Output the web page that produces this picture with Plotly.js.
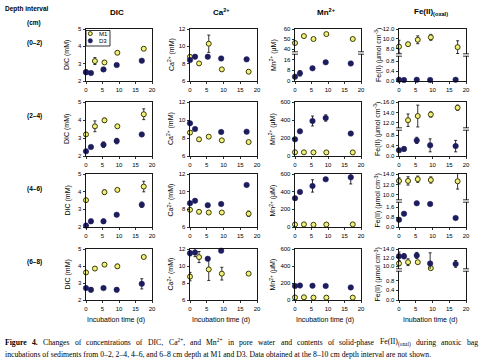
<!DOCTYPE html>
<html><head><meta charset="utf-8">
<script src="https://cdn.plot.ly/plotly-3.0.1.min.js"></script>
<style>html,body{margin:0;padding:0;background:#fff}#chart{width:480px;height:362px}</style>
</head><body><div id="chart"></div>
<script>
// ---------- data ----------
const daysM1 = [0, 2.7, 5.6, 9.5, 17.5];
const daysD3 = [0, 1.5, 5.3, 9.3, 16.9];
const xTicks = [0, 5, 10, 15, 20];
const seriesNames = ['M1', 'D3'];
const depthLabels = ['(0\u20132)', '(2\u20134)', '(4\u20136)', '(6\u20138)'];
const colTitles = ['DIC', 'Ca<sup>2+</sup>', 'Mn<sup>2+</sup>', 'Fe(II)<sub>(oxal)</sub>'];
const yTitles = ['DIC (mM)', 'Ca<sup>2+</sup> (mM)', 'Mn<sup>2+</sup> (\u03bcM)', 'Fe(II) (\u03bcmol cm<sup>-3</sup>)'];
const xTitles = ['Incubation time (d)', 'Incubation time (d)', 'Incubation time (d)', 'Inubation time (d)'];

// DIC (mM)
const dicM1 = [[2.52, 3.15, 3.07, 3.63, 3.86], [3.2, 3.65, 3.98, 3.65, 4.32], [3.52, null, 3.97, 4.1, 4.29], [3.62, 3.85, 4.08, 3.98, 4.53]];
const dicM1Err = [[0, 0.2, 0.1, 0.05, 0.05], [0.05, 0.3, 0.12, 0, 0.3], [0.08, 0, 0.12, 0, 0.3], [0.05, 0, 0, 0.12, 0.05]];
const dicD3 = [[2.5, 2.46, 2.67, 2.92, 3.17], [2.26, 2.5, 2.63, 2.83, 3.2], [2.08, 2.32, 2.32, 2.69, 3.26], [2.7, 2.6, 2.7, 2.6, 2.95]];
const dicD3Err = [[0.04, 0, 0.05, 0, 0], [0.05, 0, 0.15, 0.15, 0], [0.1, 0.12, 0.12, 0, 0.15], [0.05, 0.12, 0, 0.12, 0.3]];
// Ca2+ (mM)
const caM1 = [[8.79, 8.03, 10.3, 7.34, 7.07], [8.6, 7.85, 8.15, 7.74, 7.55], [7.95, 7.72, 7.64, 7.64, 7.5], [8.75, 11.05, 9.6, 9.1, 9.1]];
const caM1Err = [[0, 0.1, 1.0, 0, 0], [0.1, 0.15, 0, 0, 0], [0, 0.2, 0, 0, 0.3], [0.5, 0.65, 1.3, 0.75, 0]];
const caD3 = [[8.41, 8.8, 8.8, 8.6, 8.5], [9.63, 9.0, null, 8.67, 8.7], [8.7, 8.97, 8.47, 8.6, 10.76], [11.5, 11.6, 10.85, 11.8, null]];
const caD3Err = [[0, 0.2, 0.2, 0, 0.2], [0, 0, 0, 0, 0], [0, 0, 0, 0, 0], [0.3, 0.5, 0.1, 0, 0]];
// Mn2+ (uM)
const mnM1 = [[46, 52.9, 50, 54.9, 50], [42, 41, 40, 40, 40], [28, 30, 25, 28, 30], [30, 32, 28, 28, 28]];
const mnM1Err = [[0, 0, 1, 0, 0], [0, 0, 0, 0, 0], [0, 0, 0, 0, 0], [0, 0, 0, 0, 0]];
const mnD3 = [[3.2, 5.7, 9.4, 13.8, 13], [185, 274, 389, 422, 249], [326, 397, 465, 540, 562], [165, 170, 168, 165, 148]];
const mnD3Err = [[0.5, 2, 0, 0, 0], [15, 0, 55, 35, 0], [15, 0, 70, 10, 75], [0, 0, 0, 0, 0]];
// Fe(II)oxal (umol cm-3)
const feM1 = [[8.4, 8.9, 9.8, 10.3, 8.3], [null, 12.5, 13.3, 13.6, 14.9], [12.67, 12.67, 13.0, 12.85, 12.6], [10.6, 10.9, 10.9, 9.5, null]];
const feM1Err = [[1.3, 0.3, 0.8, 0.6, 1.3], [0, 1.2, 2.1, 0.5, 0.5], [0.6, 0.8, 0.6, 0.6, 1.5], [0.5, 0.8, 0, 0.3, 0]];
const feD3 = [[0.05, 0.04, 0.05, 0.04, 0.05], [0.22, 0.27, 0.6, 0.41, 0.38], [0.58, 1.06, 1.9, 1.84, 0.72], [12.3, 12.3, 12.5, 10.6, 10.5]];
const feD3Err = [[0, 0, 0, 0, 0], [0.06, 0.08, 0.12, 0.25, 0.22], [0.05, 0.12, 0.1, 0.1, 0.05], [1.0, 0.6, 0.7, 2.5, 0.8]];

// caption text
const captionLine1 = [
  [['Figure', 1, true]], [['4.', 1, true]], [['Changes', 1]], [['of', 1]], [['concentrations', 1]], [['of', 1]],
  [['DIC,', 1]], [['Ca', 1], ['2+', 0.7, false, 'sup'], [',', 1]], [['and', 1]], [['Mn', 1], ['2+', 0.7, false, 'sup']],
  [['in', 1]], [['pore', 1]], [['water', 1]], [['and', 1]], [['contents', 1]], [['of', 1]], [['solid-phase', 1]],
  [['Fe(II)', 1], ['(oxal)', 0.7, false, 'sub']], [['during', 1]], [['anoxic', 1]], [['bag', 1]]
];
const captionLine2 = 'incubations of sediments from 0\u20132, 2\u20134, 4\u20136, and 6\u20138 cm depth at M1 and D3. Data obtained at the 8\u201310 cm depth interval are not shown.';

// ---------- layout geometry (pixels) ----------
const W = 480, H = 362;
const COLS = [[86, 152], [190, 257], [295, 361], [399, 466]];
const ROWS = [[29, 81], [102, 156], [174, 227], [249, 300]];
const px = x => x / W, py = y => 1 - y / H;

// axis segment specs per column/row (broken axes have two segments, top first)
const AX = [
  [{segs: [{range: [2, 5], tv: [2, 3, 4, 5]}]}, {segs: [{range: [2, 5], tv: [2, 3, 4, 5]}]}, {segs: [{range: [2, 5], tv: [2, 3, 4, 5]}]}, {segs: [{range: [2, 5], tv: [2, 3, 4, 5]}]}],
  [{segs: [{range: [6, 12], tv: [6, 8, 10, 12]}]}, {segs: [{range: [6, 12], tv: [6, 8, 10, 12]}]}, {segs: [{range: [6, 12], tv: [6, 8, 10, 12]}]}, {segs: [{range: [6, 12], tv: [6, 8, 10, 12]}]}],
  [{brk: 53, segs: [{range: [37, 60], tv: [40, 50, 60]}, {range: [0, 20], tv: [0, 8, 16]}]},
   {segs: [{range: [0, 600], tv: [0, 200, 400, 600]}]}, {segs: [{range: [0, 600], tv: [0, 200, 400, 600]}]}, {segs: [{range: [0, 600], tv: [0, 200, 400, 600]}]}],
  [{brk: 55, fmt: '.1f', segs: [{range: [6.9, 12], tv: [8, 10, 12]}, {range: [0, 1.0], tv: [0, 0.4, 0.8]}]},
   {brk: 129, fmt: '.1f', segs: [{range: [11, 16], tv: [12, 14, 16]}, {range: [0, 1.0], tv: [0, 0.4, 0.8]}]},
   {brk: 201, fmt: '.1f', segs: [{range: [9.0, 14], tv: [10, 12, 14]}, {range: [0, 2.0], tv: [0, 0.8, 1.6]}]},
   {brk: 270, fmt: '.1f', segs: [{range: [9.3, 14], tv: [10, 12, 14]}, {range: [0, 1.2], tv: [0, 0.4, 0.8]}]}]
];
const SERIES = [
  [dicM1, dicM1Err, dicD3, dicD3Err],
  [caM1, caM1Err, caD3, caD3Err],
  [mnM1, mnM1Err, mnD3, mnD3Err],
  [feM1, feM1Err, feD3, feD3Err]
];

const M1_COLOR = '#f0f07a', M1_EDGE = '#3a3a08', D3_COLOR = '#1d1d5e';
const M1_MARKER = {symbol: 'circle', size: 5, color: M1_COLOR, line: {color: M1_EDGE, width: 1}};
const D3_MARKER = {symbol: 'circle', size: 5.5, color: D3_COLOR, line: {color: D3_COLOR, width: 0.5}};
const FONT = 'Arial, "Liberation Sans", sans-serif';
const TICKFONT = {family: FONT, size: 6, color: '#000'};

const data = [];
const shapes = [];
const annotations = [];
const layout = {
  width: W, height: H, margin: {l: 0, r: 0, t: 0, b: 0},
  paper_bgcolor: '#fff', plot_bgcolor: 'rgba(0,0,0,0)',
  showlegend: false,
  font: {family: FONT, color: '#000'}
};

let axN = 0;
const axName = (n, l) => (n === 1 ? l + 'axis' : l + 'axis' + n);
const axRef = (n, l) => (n === 1 ? l : l + n);

for (let c = 0; c < 4; c++) {
  for (let r = 0; r < 4; r++) {
    const spec = AX[c][r];
    const [x0, x1] = COLS[c];
    const [y0, y1] = ROWS[r];
    const segs = spec.segs;
    const broken = segs.length === 2;
    const [m1, m1e, d3, d3e] = SERIES[c];
    segs.forEach((s, i) => {
      const n = ++axN;
      const isBottom = i === segs.length - 1;
      let top = y0, bot = y1;
      if (broken) { if (i === 0) bot = spec.brk - 1; else top = spec.brk + 1; }
      layout[axName(n, 'x')] = {
        domain: [px(x0), px(x1)], anchor: axRef(n, 'y'), range: [0, 20],
        tickvals: xTicks, showticklabels: isBottom, ticks: isBottom ? 'outside' : '',
        ticklen: 2.5, tickwidth: 0.8, tickcolor: '#000', tickfont: TICKFONT,
        side: isBottom ? 'bottom' : 'top', showline: true, linecolor: '#000', linewidth: 0.9,
        mirror: !broken, showgrid: false, zeroline: false, fixedrange: true
      };
      layout[axName(n, 'y')] = {
        domain: [py(bot), py(top)], anchor: axRef(n, 'x'), range: s.range,
        tickvals: s.tv, tickformat: spec.fmt || '', ticks: 'outside', ticklen: 2.5,
        tickwidth: 0.8, tickcolor: '#000', tickfont: TICKFONT, showline: true,
        linecolor: '#000', linewidth: 0.9, mirror: true, showgrid: false, zeroline: false,
        fixedrange: true
      };
      const inSeg = v => {
        if (v === null) return false;
        if (!broken) return true;
        const lowerTop = segs[1].range[1];
        return i === 0 ? v > lowerTop : v <= lowerTop;
      };
      [[seriesNames[0], daysM1, m1[r], m1e[r], M1_MARKER], [seriesNames[1], daysD3, d3[r], d3e[r], D3_MARKER]].forEach(([name, xs, ys, es, mk]) => {
        data.push({
          type: 'scatter', mode: 'markers', name: name,
          x: xs, y: ys.map(v => (inSeg(v) ? v : null)),
          xaxis: axRef(n, 'x'), yaxis: axRef(n, 'y'),
          marker: mk, cliponaxis: false, showlegend: false, hoverinfo: 'skip',
          error_y: {type: 'data', array: es, visible: true, color: '#000', thickness: 0.8, width: 1.5}
        });
      });
    });
    if (broken) {
      [x0, x1].forEach(xe => {
        [spec.brk - 1.2, spec.brk + 1.2].forEach(yb => {
          shapes.push({type: 'line', xref: 'paper', yref: 'paper', x0: px(xe - 3), x1: px(xe + 3),
                       y0: py(yb), y1: py(yb), line: {color: '#000', width: 0.8}});
        });
      });
    }
    // y-axis title
    const ytx = [67, 171, 273, 378][c];
    annotations.push({text: yTitles[c], xref: 'paper', yref: 'paper', x: px(ytx), y: py((y0 + y1) / 2),
      textangle: -90, showarrow: false, xanchor: 'center', yanchor: 'middle',
      font: {family: FONT, size: 7, color: '#000'}});
  }
  // column title
  annotations.push({text: '<b>' + colTitles[c] + '</b>', xref: 'paper', yref: 'paper',
    x: px((COLS[c][0] + COLS[c][1]) / 2 - 2), y: py(12), showarrow: false, xanchor: 'center', yanchor: 'middle',
    font: {family: FONT, size: 8, color: '#000'}});
  // x-axis title under bottom row
  annotations.push({text: xTitles[c], xref: 'paper', yref: 'paper',
    x: px((COLS[c][0] + COLS[c][1]) / 2 - 3), y: py(320), showarrow: false, xanchor: 'center', yanchor: 'middle',
    font: {family: FONT, size: 7, color: '#000'}});
}

// legend box inside the first DIC panel (decoration)
shapes.push({type: 'rect', xref: 'paper', yref: 'paper', x0: px(86), x1: px(110), y0: py(30.5), y1: py(46),
  line: {color: '#000', width: 0.8}, fillcolor: '#fff', layer: 'above'});
shapes.push({type: 'circle', xref: 'paper', yref: 'paper', x0: px(88.3), x1: px(92.3), y0: py(31.6), y1: py(35.6),
  line: {color: M1_EDGE, width: 1}, fillcolor: M1_COLOR, layer: 'above'});
shapes.push({type: 'circle', xref: 'paper', yref: 'paper', x0: px(88.1), x1: px(92.5), y0: py(38.6), y1: py(43),
  line: {color: D3_COLOR, width: 0.5}, fillcolor: D3_COLOR, layer: 'above'});
seriesNames.forEach((nm, i) => annotations.push({text: nm, xref: 'paper', yref: 'paper', x: px(97), y: py(33.8 + i * 7),
  showarrow: false, xanchor: 'left', yanchor: 'middle', font: {family: FONT, size: 6, color: '#000'}}));

// left labels
annotations.push({text: '<b>Depth interval</b>', xref: 'paper', yref: 'paper', x: px(27), y: py(9),
  showarrow: false, xanchor: 'center', yanchor: 'middle', font: {family: FONT, size: 6.5, color: '#000'}});
annotations.push({text: '<b>(cm)</b>', xref: 'paper', yref: 'paper', x: px(34), y: py(23),
  showarrow: false, xanchor: 'center', yanchor: 'middle', font: {family: FONT, size: 6.5, color: '#000'}});
const depthY = [43, 116, 189, 262];
depthLabels.forEach((t, i) => annotations.push({text: '<b>' + t + '</b>', xref: 'paper', yref: 'paper',
  x: px(34), y: py(depthY[i]), showarrow: false, xanchor: 'center', yanchor: 'middle',
  font: {family: FONT, size: 6.5, color: '#000'}}));

// caption: first line justified between x=3 and x=476 (word widths measured with canvas)
const SERIF = '"Liberation Serif", "Times New Roman", serif';
const CAP_SIZE = 7.7;
const capFont = {family: SERIF, size: CAP_SIZE, color: '#000'};
const ctx = document.createElement('canvas').getContext('2d');
const measure = (t, scale, bold) => {
  ctx.font = (bold ? 'bold ' : '') + (CAP_SIZE * scale) + 'px "Liberation Serif", serif';
  return ctx.measureText(t).width;
};
const wordInfo = captionLine1.map(parts => {
  let w = 0, html = '';
  parts.forEach(([t, sc, bold, tag]) => {
    w += measure(t, sc, bold);
    let h = t;
    if (tag) h = '<' + tag + '>' + h + '</' + tag + '>';
    if (bold) h = '<b>' + h + '</b>';
    html += h;
  });
  return {w, html};
});
const totalW = wordInfo.reduce((a, b) => a + b.w, 0);
const gap = (476 - 3 - totalW) / (wordInfo.length - 1);
let cx = 3;
wordInfo.forEach(wi => {
  annotations.push({text: wi.html, xref: 'paper', yref: 'paper', x: px(cx), y: py(342),
    showarrow: false, xanchor: 'left', yanchor: 'middle', font: capFont});
  cx += wi.w + gap;
});
annotations.push({text: captionLine2, xref: 'paper', yref: 'paper', x: px(3), y: py(354),
  showarrow: false, xanchor: 'left', yanchor: 'middle', font: capFont});

layout.shapes = shapes;
layout.annotations = annotations;
Plotly.newPlot('chart', data, layout, {staticPlot: true, displayModeBar: false});
</script></body></html>
